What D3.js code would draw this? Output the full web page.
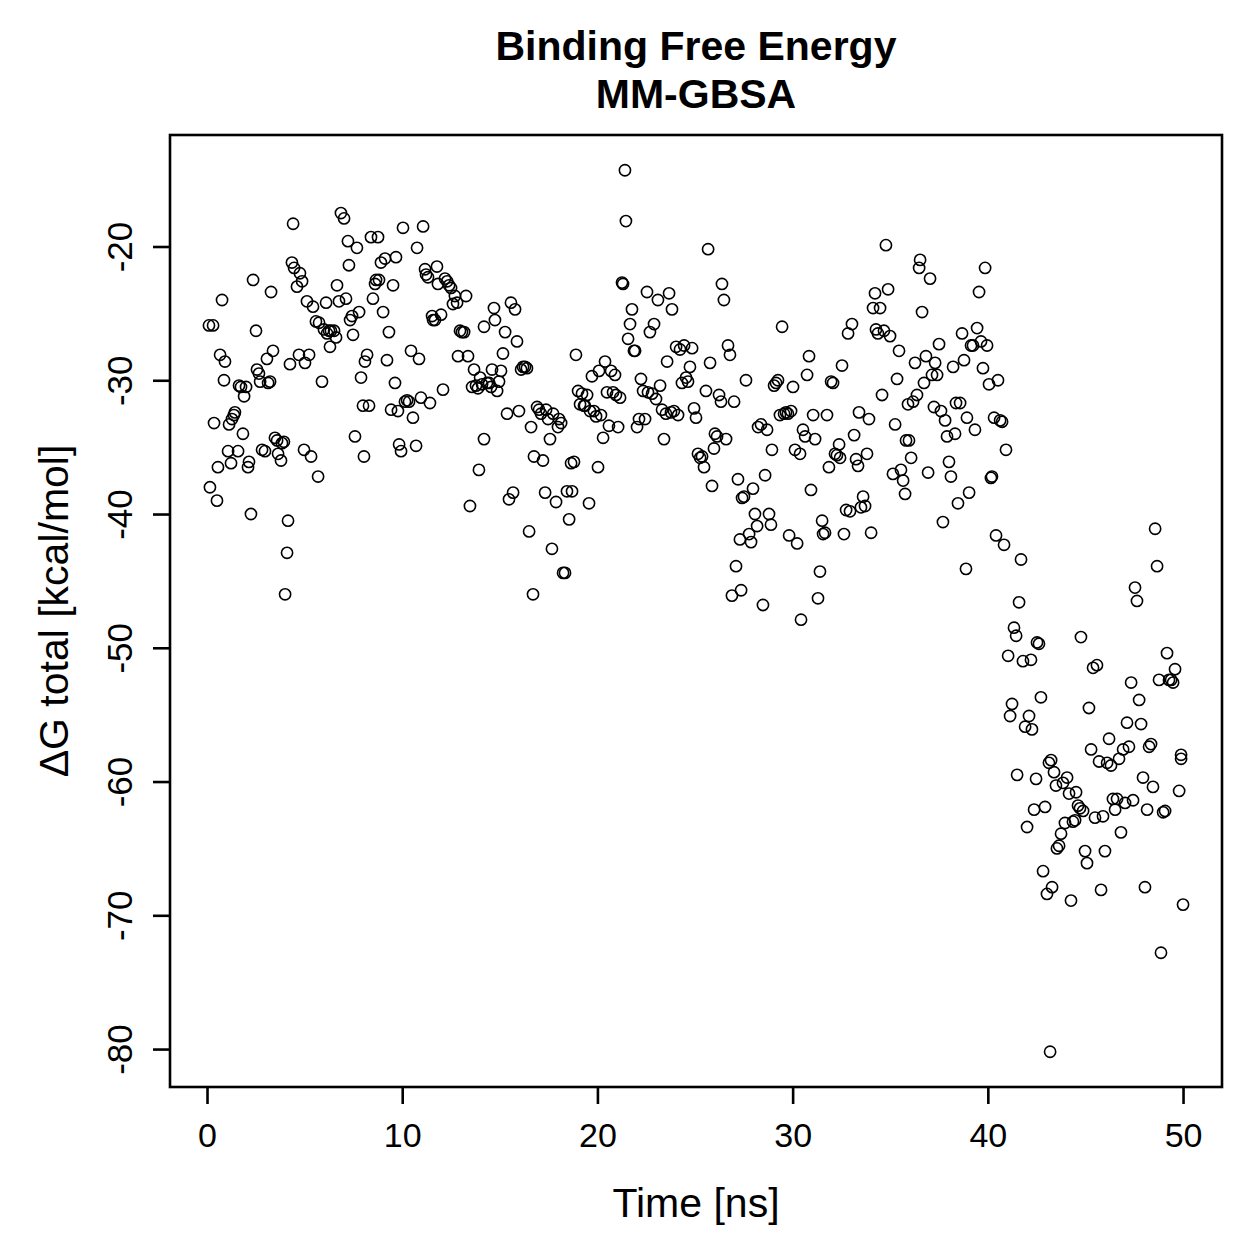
<!DOCTYPE html>
<html>
<head>
<meta charset="utf-8">
<script src="https://cdn.jsdelivr.net/npm/d3@7"></script>
<style>
  body { margin: 0; background: #fff; }
  text { font-family: "Liberation Sans", Arial, sans-serif; fill: #000; }
</style>
</head>
<body>
<svg id="chart" width="1259" height="1259"></svg>
<script>
'use strict';

var times = [
  0.10, 0.31, 0.15, 0.36, 0.51, 0.56, 0.67, 0.77, 0.87, 0.92, 1.08, 1.13, 1.23, 1.28, 1.38, 1.43, 1.59, 1.64, 1.74, 1.84,
  1.90, 2.00, 2.10, 2.15, 2.25, 2.36, 2.51, 2.56, 2.66, 2.72, 2.82, 2.97, 3.07, 3.13, 3.23, 3.28, 3.38, 3.48, 3.59, 3.64,
  3.79, 3.84, 3.94, 4.00, 4.15, 4.10, 4.25, 4.41, 4.35, 4.46, 4.61, 4.71, 4.76, 4.87, 4.97, 5.02, 5.12, 5.23, 5.33, 5.43,
  5.58, 5.69, 5.74, 5.89, 5.99, 6.10, 6.15, 6.25, 6.30, 6.35, 6.51, 6.61, 6.66, 6.76, 6.86, 7.02, 7.12, 7.22, 7.27, 7.33,
  7.43, 7.48, 7.58, 7.68, 7.79, 7.89, 7.99, 8.04, 8.09, 8.20, 8.30, 8.40, 8.50, 8.61, 8.66, 8.76, 8.81, 8.91, 9.02, 9.12,
  9.22, 9.32, 9.43, 9.53, 9.63, 9.68, 9.78, 9.84, 9.94, 10.04, 10.14, 10.25, 10.35, 10.45, 10.55, 10.71, 10.76, 10.86, 10.96, 11.07,
  11.17, 11.22, 11.32, 11.42, 11.53, 11.58, 11.68, 11.78, 11.83, 11.99, 12.09, 12.19, 12.30, 12.40, 12.50, 12.60, 12.70, 12.81, 12.86, 12.96,
  13.06, 13.17, 13.27, 13.37, 13.47, 13.58, 13.68, 13.78, 13.88, 13.93, 13.99, 14.09, 14.19, 14.19, 14.34, 14.45, 14.55, 14.60, 14.70, 14.75,
  14.86, 14.96, 15.06, 15.16, 15.27, 15.37, 15.47, 15.57, 15.68, 15.78, 15.88, 15.98, 16.09, 16.19, 16.29, 16.39, 16.50, 16.60, 16.70, 16.75,
  16.91, 17.01, 17.11, 17.21, 17.32, 17.37, 17.47, 17.57, 17.67, 17.73, 17.88, 17.98, 18.03, 18.14, 18.24, 18.34, 18.44, 18.55, 18.65, 18.70,
  18.80, 18.90, 19.01, 19.11, 19.21, 19.31, 19.36, 19.47, 19.57, 19.62, 19.72, 19.82, 19.93, 20.03, 20.08, 20.18, 20.29, 20.39, 20.49, 20.59,
  20.70, 20.80, 20.90, 20.95, 21.06, 21.16, 21.26, 21.31, 21.41, 21.46, 21.57, 21.67, 21.77, 21.87, 21.93, 22.03, 22.13, 22.23, 22.34, 22.44,
  22.54, 22.59, 22.69, 22.80, 22.90, 23.00, 23.10, 23.21, 23.31, 23.41, 23.51, 23.57, 23.67, 23.77, 23.82, 23.92, 24.03, 24.13, 24.23, 24.33,
  24.44, 24.54, 24.64, 24.74, 24.85, 24.95, 25.05, 25.15, 25.26, 25.36, 25.46, 25.56, 25.67, 25.77, 25.87, 25.97, 26.02, 26.13, 26.23, 26.33,
  26.38, 26.48, 26.59, 26.69, 26.79, 26.89, 27.00, 27.10, 27.20, 27.30, 27.36, 27.41, 27.51, 27.61, 27.77, 27.87, 27.97, 28.07, 28.18, 28.23,
  28.38, 28.48, 28.59, 28.69, 28.79, 28.89, 28.94, 29.05, 29.15, 29.25, 29.35, 29.46, 29.56, 29.66, 29.76, 29.82, 29.92, 30.02, 30.12, 30.23,
  30.38, 30.43, 30.53, 30.64, 30.74, 30.84, 30.94, 31.05, 31.15, 31.30, 31.40, 31.51, 31.56, 31.66, 31.76, 31.86, 31.97, 32.07, 32.17, 32.27,
  32.38, 32.43, 32.53, 32.63, 32.74, 32.84, 32.94, 33.04, 33.15, 33.25, 33.35, 33.40, 33.50, 33.61, 33.71, 33.81, 33.91, 34.02, 34.12, 34.22,
  34.27, 34.37, 34.48, 34.58, 34.68, 34.78, 34.89, 34.99, 35.14, 35.25, 35.35, 35.45, 35.55, 35.66, 35.76, 35.81, 35.91, 35.96, 36.07, 36.17,
  36.27, 36.37, 36.48, 36.53, 36.63, 36.73, 36.83, 36.94, 37.04, 37.14, 37.24, 37.30, 37.40, 37.50, 37.60, 37.70, 37.81, 37.91, 38.01, 38.11,
  38.22, 38.32, 38.37, 38.47, 38.58, 38.68, 38.78, 38.88, 38.93, 39.04, 39.14, 39.24, 39.34, 39.45, 39.55, 39.65, 39.75, 39.86, 39.96, 40.06,
  40.16, 40.21, 40.32, 40.42, 40.52, 40.63, 40.73, 40.83, 40.93, 41.04, 41.14, 41.24, 41.34, 41.45, 41.50, 41.60, 41.70, 41.80, 41.91, 42.01,
  42.11, 42.21, 42.26, 42.37, 42.47, 42.52, 42.62, 42.72, 42.83, 42.93, 43.03, 43.13, 43.19, 43.24, 43.29, 43.39, 43.49, 43.54, 43.65, 43.75,
  43.85, 43.95, 44.06, 44.16, 44.26, 44.36, 44.47, 44.52, 44.62, 44.72, 44.77, 44.88, 44.98, 45.08, 45.18, 45.29, 45.39, 45.49, 45.59, 45.70,
  45.80, 45.90, 46.00, 46.11, 46.21, 46.31, 46.41, 46.52, 46.62, 46.72, 46.82, 46.93, 47.03, 47.13, 47.23, 47.34, 47.44, 47.54, 47.64, 47.75,
  47.85, 47.95, 48.05, 48.16, 48.26, 48.36, 48.46, 48.57, 48.67, 48.77, 48.87, 48.98, 49.08, 49.18, 49.28, 49.39, 49.49, 49.59, 49.80, 49.90,
  49.90, 50.00
];

// delta G total [kcal/mol] for each frame above
var dgTotal = [
  -25.9, -25.9, -38.0, -33.2, -39.0, -36.5, -28.1, -24.0, -30.0, -28.6, -35.3, -33.3, -36.2, -32.9, -32.6, -32.4, -35.3, -30.4, -30.5, -34.0,
  -31.2, -30.5, -36.5, -36.1, -40.0, -22.5, -26.3, -29.2, -29.5, -30.1, -35.2, -35.3, -28.4, -30.2, -30.1, -23.4, -27.8, -34.3, -34.5, -35.5,
  -36.0, -34.7, -34.6, -46.0, -40.5, -42.9, -28.8, -18.3, -21.2, -21.6, -23.0, -28.1, -22.0, -22.6, -35.2, -28.7, -24.1, -28.1, -35.7, -24.5,
  -25.6, -37.2, -25.7, -30.1, -26.2, -24.2, -26.5, -26.3, -27.5, -26.3, -26.3, -26.8, -22.9, -24.1, -17.5, -17.9, -23.9, -19.6, -21.4, -25.5,
  -25.2, -26.6, -34.2, -20.1, -24.9, -29.8, -31.9, -35.7, -28.6, -28.1, -31.9, -19.3, -23.9, -22.8, -22.5, -19.3, -22.5, -21.2, -24.9, -20.9,
  -28.5, -26.4, -32.2, -22.9, -30.2, -20.8, -32.3, -34.8, -35.3, -18.6, -31.6, -31.5, -31.6, -27.8, -32.8, -34.9, -20.1, -28.4, -31.3, -18.5,
  -21.7, -22.1, -22.3, -31.7, -25.2, -25.5, -25.5, -21.5, -22.8, -25.1, -30.7, -22.4, -22.6, -22.9, -23.1, -24.3, -23.7, -24.2, -28.2, -26.3,
  -26.4, -26.4, -23.7, -28.2, -39.4, -30.5, -29.2, -30.4, -30.6, -36.7, -29.8, -30.3, -26.0, -34.4, -30.2, -30.2, -30.5, -29.2, -24.6, -25.5,
  -30.8, -30.1, -29.3, -28.0, -26.4, -32.5, -38.9, -24.2, -38.4, -24.7, -27.1, -32.3, -29.2, -29.0, -29.0, -29.1, -41.3, -33.5, -46.0, -35.7,
  -32.0, -32.2, -32.5, -36.0, -38.4, -32.2, -32.9, -34.4, -42.6, -32.5, -39.1, -33.5, -32.9, -33.2, -44.4, -44.4, -38.3, -40.4, -36.2, -38.3,
  -36.1, -28.1, -30.8, -31.8, -31.0, -31.9, -31.9, -31.1, -39.2, -32.3, -29.7, -32.3, -32.7, -36.5, -29.3, -32.6, -34.3, -28.6, -30.9, -33.4,
  -29.3, -30.9, -29.6, -31.1, -33.5, -31.3, -22.7, -22.8, -14.3, -18.1, -26.9, -25.8, -24.7, -27.8, -27.8, -33.5, -32.9, -29.9, -30.8, -32.9,
  -23.4, -30.9, -26.4, -31.0, -25.8, -31.4, -24.0, -30.4, -32.2, -34.4, -32.5, -28.6, -23.5, -32.4, -24.7, -32.3, -27.5, -32.6, -27.7, -30.2,
  -27.4, -29.8, -30.1, -29.0, -27.6, -32.1, -32.8, -35.5, -35.8, -35.7, -36.5, -30.8, -20.2, -28.7, -37.9, -35.1, -34.0, -34.2, -31.1, -31.6,
  -22.8, -24.0, -34.4, -27.4, -28.1, -46.1, -31.6, -43.9, -37.4, -41.9, -45.7, -38.8, -38.7, -30.0, -41.5, -42.1, -38.1, -40.0, -40.9, -33.5,
  -33.3, -46.8, -37.1, -33.7, -40.0, -40.8, -35.2, -30.4, -30.2, -30.0, -32.6, -26.0, -32.5, -32.4, -32.5, -41.6, -32.3, -30.5, -35.2, -42.2,
  -35.5, -47.9, -33.7, -34.2, -29.6, -28.2, -38.2, -32.6, -34.4, -46.3, -44.3, -40.5, -41.5, -41.4, -32.6, -36.5, -30.1, -30.2, -35.5, -35.6,
  -34.8, -35.8, -28.9, -41.5, -39.7, -26.5, -39.8, -25.8, -34.1, -35.9, -36.4, -32.4, -39.5, -38.7, -39.4, -35.5, -32.9, -41.4, -24.6, -23.5,
  -26.2, -26.5, -24.6, -31.1, -26.3, -19.9, -23.2, -26.7, -37.0, -33.3, -29.9, -27.8, -36.7, -37.5, -38.5, -34.5, -31.8, -34.5, -35.8, -31.6,
  -28.7, -31.1, -21.6, -21.0, -24.9, -30.2, -28.2, -36.9, -22.4, -29.6, -32.0, -28.7, -29.6, -27.3, -32.3, -40.6, -33.0, -34.2, -36.1, -37.2,
  -29.0, -34.0, -31.7, -39.2, -31.7, -26.5, -28.5, -44.1, -32.8, -38.4, -27.4, -27.4, -33.7, -26.1, -23.4, -27.1, -29.1, -21.6, -27.4, -30.3,
  -37.3, -37.2, -32.8, -41.6, -30.0, -33.0, -33.1, -42.3, -35.2, -50.6, -55.1, -54.2, -48.5, -49.1, -59.5, -46.6, -43.4, -51.0, -55.9, -63.4,
  -55.1, -50.9, -56.1, -62.1, -59.8, -49.6, -49.7, -53.7, -66.7, -61.9, -68.4, -58.6, -80.2, -58.4, -67.9, -59.3, -60.3, -65.0, -64.8, -63.9,
  -60.1, -63.1, -59.7, -60.9, -68.9, -63.0, -62.9, -60.8, -61.8, -62.0, -49.2, -62.2, -65.2, -66.1, -54.5, -57.6, -51.5, -62.7, -51.3, -58.5,
  -68.1, -62.6, -65.2, -58.6, -56.8, -58.8, -61.3, -62.1, -61.3, -58.3, -63.8, -57.6, -61.6, -55.6, -57.4, -52.6, -61.4, -45.5, -46.5, -53.9,
  -55.7, -59.7, -67.9, -62.1, -57.4, -57.2, -60.4, -41.1, -43.9, -52.4, -72.8, -62.3, -62.2, -50.4, -52.4, -52.4, -52.6, -51.6, -60.7, -58.3,
  -58.0, -69.2
];

var xTicks = [0, 10, 20, 30, 40, 50];
var yTicks = [-80, -70, -60, -50, -40, -30, -20];

var titleLines = ['Binding Free Energy', 'MM-GBSA'];
var xLabel = 'Time [ns]';
var yLabel = '\u0394G total [kcal/mol]';

// plot region (R base graphics style)
var plot = { left: 170, right: 1222, top: 135, bottom: 1087 };

var svg = d3.select('#chart');

// R pads the data range by 4% on each side
function padded(extent) {
    var d = (extent[1] - extent[0]) * 0.04;
    return [extent[0] - d, extent[1] + d];
}

var x = d3.scaleLinear()
    .domain(padded(d3.extent(times)))
    .range([plot.left, plot.right]);

var y = d3.scaleLinear()
    .domain(padded(d3.extent(dgTotal)))
    .range([plot.bottom, plot.top]);

var points = times.map(function (t, i) { return [t, dgTotal[i]]; });

// points
svg.append('g')
    .selectAll('circle')
    .data(points)
    .join('circle')
    .attr('cx', function (d) { return x(d[0]); })
    .attr('cy', function (d) { return y(d[1]); })
    .attr('r', 5.6)
    .attr('fill', 'none')
    .attr('stroke', '#000')
    .attr('stroke-width', 1.6);

// box
svg.append('rect')
    .attr('x', plot.left)
    .attr('y', plot.top)
    .attr('width', plot.right - plot.left)
    .attr('height', plot.bottom - plot.top)
    .attr('fill', 'none')
    .attr('stroke', '#000')
    .attr('stroke-width', 2.6);

// x axis
var xAxis = svg.append('g')
    .attr('transform', 'translate(0,' + plot.bottom + ')')
    .call(d3.axisBottom(x)
        .tickValues(xTicks)
        .tickSize(17)
        .tickPadding(19)
        .tickFormat(function (d) { return String(d); }));

xAxis.select('.domain').remove();
xAxis.selectAll('line').attr('stroke-width', 2.6);
xAxis.selectAll('text')
    .attr('font-size', 34)
    .attr('font-family', '"Liberation Sans", Arial, sans-serif');

// y axis, labels rotated like R's las=0
var yAxis = svg.append('g')
    .attr('transform', 'translate(' + plot.left + ',0)')
    .call(d3.axisLeft(y)
        .tickValues(yTicks)
        .tickSize(17)
        .tickFormat(function (d) { return String(d); }));

yAxis.select('.domain').remove();
yAxis.selectAll('line').attr('stroke-width', 2.6);
yAxis.selectAll('text')
    .attr('transform', 'rotate(-90)')
    .attr('x', 0)
    .attr('y', -38)
    .attr('dy', 0)
    .attr('text-anchor', 'middle')
    .attr('font-size', 35)
    .attr('font-family', '"Liberation Sans", Arial, sans-serif');

// titles
var cx = (plot.left + plot.right) / 2;

svg.append('g')
    .selectAll('text')
    .data(titleLines)
    .join('text')
    .attr('x', cx)
    .attr('y', function (d, i) { return 60 + i * 48; })
    .attr('text-anchor', 'middle')
    .attr('font-size', 41)
    .attr('font-weight', 'bold')
    .text(function (d) { return d; });

svg.append('text')
    .attr('x', cx)
    .attr('y', 1217)
    .attr('text-anchor', 'middle')
    .attr('font-size', 41)
    .text(xLabel);

svg.append('text')
    .attr('transform', 'translate(68,' + ((plot.top + plot.bottom) / 2) + ') rotate(-90)')
    .attr('text-anchor', 'middle')
    .attr('font-size', 41)
    .text(yLabel);
</script>
</body>
</html>
